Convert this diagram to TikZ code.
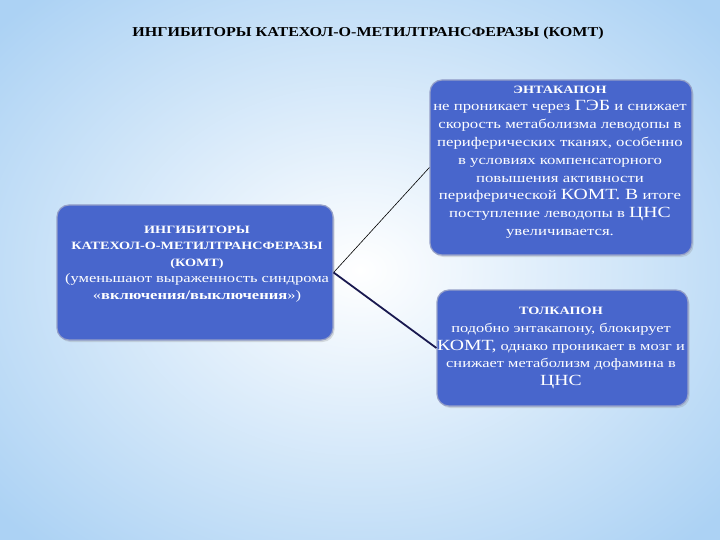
\documentclass[tikz,border=0pt]{standalone}
\usepackage{fontspec}
\setmainfont{Liberation Serif}
\newfontfamily\titlefont[FakeStretch=1.18]{Liberation Serif}
\newfontfamily\boxfont[FakeStretch=1.27]{Liberation Serif}
\usetikzlibrary{shadows}
\definecolor{bgedge}{RGB}{172,210,244}
\definecolor{boxblue}{RGB}{72,102,204}
\definecolor{boxrim}{RGB}{150,160,200}
\definecolor{navy}{RGB}{25,25,80}
\tikzset{
  card/.style={draw=boxrim, line width=1.2pt, fill=boxblue, rounded corners=12pt,
    drop shadow={shadow xshift=1.5pt, shadow yshift=-2pt, opacity=0.25}},
  cardtext/.style={text=white, align=center, inner sep=0pt,
    font=\boxfont\fontsize{13.2}{17.8}\selectfont},
}
\newcommand{\bigw}[1]{{\fontsize{15.5}{17.8}\selectfont #1}}
\newcommand{\hd}[1]{{\bfseries\fontsize{11.2}{16}\selectfont #1}}
\begin{document}
\begin{tikzpicture}[x=1pt,y=-1pt]
\useasboundingbox (0,0) rectangle (720,540);
\shade[inner color=white, outer color=bgedge] (-120,-100) rectangle (840,640);

\node[font=\titlefont\bfseries\fontsize{13.6}{16}\selectfont] (title) at (368,33)
  {ИНГИБИТОРЫ КАТЕХОЛ-О-МЕТИЛТРАНСФЕРАЗЫ (КОМТ)};

\node[card, minimum width=276pt, minimum height=135pt] (L) at (195,272.5) {};
\node[card, minimum width=262pt, minimum height=175pt] (E) at (561,167.5) {};
\node[card, minimum width=251pt, minimum height=116pt] (T) at (562.5,348) {};

\draw[black, line width=0.6pt] (L.east) -- (E.west);
\draw[navy, line width=1.8pt] (L.east) -- (T.west);

\node[cardtext, font=\boxfont\fontsize{13}{16.5}\selectfont] (Lt) at (197,264)
  {\hd{ИНГИБИТОРЫ}\\ \hd{КАТЕХОЛ-О-МЕТИЛТРАНСФЕРАЗЫ}\\ \hd{(КОМТ)}\\
   (уменьшают выраженность синдрома\\ «\textbf{включения/выключения}»)};

\node[cardtext] (Et) at (560,162)
  {\hd{ЭНТАКАПОН}\\ не проникает через \bigw{ГЭБ} и снижает\\
   скорость метаболизма леводопы в\\ периферических тканях, особенно\\
   в условиях компенсаторного\\ повышения активности\\
   периферической \bigw{КОМТ. В} итоге\\ поступление леводопы в \bigw{ЦНС}\\
   увеличивается.};

\node[cardtext, font=\boxfont\fontsize{12.9}{17.6}\selectfont] (Tt) at (561,348)
  {\hd{ТОЛКАПОН}\\ подобно энтакапону, блокирует\\
   \bigw{КОМТ,} однако проникает в мозг и\\ снижает метаболизм дофамина в\\ \bigw{ЦНС}};
\end{tikzpicture}
\end{document}
